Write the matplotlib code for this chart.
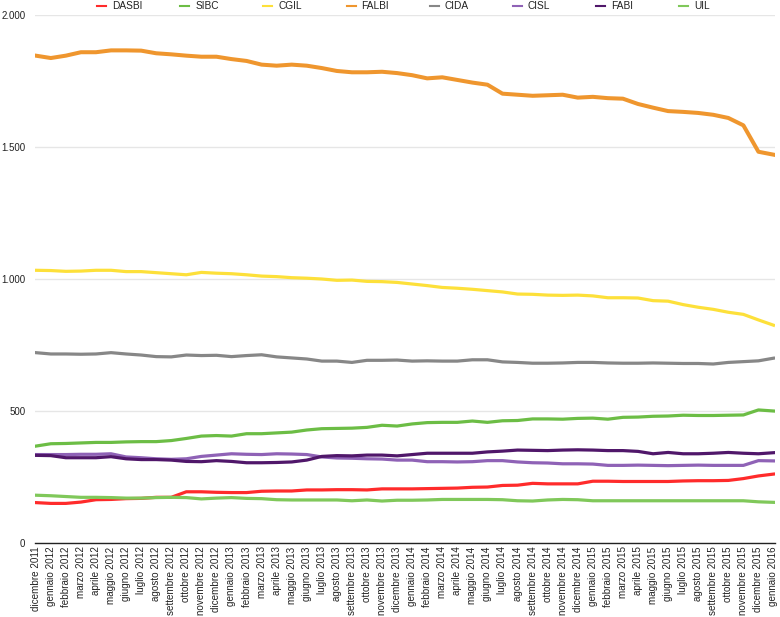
import matplotlib.pyplot as plt
from matplotlib.lines import Line2D
from matplotlib.ticker import FuncFormatter

plt.rcParams['font.family'] = ['Liberation Sans', 'DejaVu Sans']

# months from dicembre 2011 to gennaio 2016
mesi = ["gennaio", "febbraio", "marzo", "aprile", "maggio", "giugno",
        "luglio", "agosto", "settembre", "ottobre", "novembre", "dicembre"]
months = ["dicembre 2011"] + [f"{m} {y}" for y in (2012, 2013, 2014, 2015) for m in mesi] + ["gennaio 2016"]

dasbi = [153, 150, 150, 155, 164, 165, 168, 169, 173, 173, 194, 194, 192, 191, 191, 196, 197, 197, 201, 201,
         202, 202, 201, 205, 205, 205, 206, 207, 208, 211, 212, 218, 219, 226, 224, 224, 224, 234, 234, 233,
         233, 233, 233, 235, 236, 236, 237, 244, 254, 261]
sibc = [367, 376, 377, 379, 381, 381, 383, 384, 384, 388, 396, 405, 407, 405, 414, 414, 417, 420, 428, 433,
        434, 435, 438, 446, 443, 451, 456, 457, 457, 462, 457, 463, 464, 470, 470, 469, 472, 473, 469, 476,
        477, 480, 481, 484, 483, 483, 484, 485, 504, 500]
cgil = [1033, 1032, 1029, 1030, 1033, 1033, 1028, 1028, 1024, 1020, 1016, 1025, 1022, 1020, 1016, 1011, 1009,
        1005, 1003, 1000, 995, 996, 991, 990, 987, 981, 975, 968, 965, 961, 956, 951, 943, 942, 939, 938, 939,
        936, 929, 929, 928, 918, 916, 903, 893, 885, 874, 866, 845, 825]
falbi = [1846, 1837, 1846, 1859, 1859, 1866, 1866, 1865, 1855, 1851, 1846, 1842, 1842, 1833, 1826, 1812, 1808,
         1812, 1808, 1799, 1788, 1783, 1783, 1785, 1780, 1772, 1760, 1764, 1754, 1744, 1736, 1702, 1698, 1694,
         1696, 1698, 1687, 1690, 1685, 1683, 1663, 1649, 1636, 1633, 1629, 1622, 1610, 1582, 1482, 1471]
cida = [721, 716, 716, 715, 716, 721, 716, 712, 706, 705, 712, 710, 711, 706, 710, 713, 705, 701, 697, 689,
        689, 684, 692, 692, 693, 689, 690, 689, 689, 694, 694, 686, 684, 681, 681, 682, 684, 684, 682, 681,
        681, 682, 681, 680, 680, 678, 684, 687, 690, 700]
cisl = [335, 335, 335, 336, 336, 338, 326, 323, 319, 317, 319, 328, 333, 338, 336, 335, 338, 337, 335, 326,
        322, 321, 319, 318, 314, 314, 308, 308, 307, 308, 312, 312, 307, 304, 303, 300, 300, 299, 294, 294,
        295, 294, 293, 294, 295, 294, 294, 294, 312, 311]
fabi = [332, 331, 323, 323, 323, 327, 319, 316, 316, 314, 309, 308, 312, 309, 304, 304, 305, 307, 314, 328,
        331, 330, 333, 333, 330, 335, 340, 340, 340, 340, 345, 348, 352, 351, 350, 352, 353, 352, 350, 350,
        347, 338, 343, 338, 338, 340, 343, 340, 338, 342]
uil = [181, 179, 176, 173, 173, 172, 170, 170, 172, 173, 172, 167, 170, 172, 169, 168, 164, 163, 163, 163,
       163, 160, 163, 159, 162, 162, 163, 165, 165, 165, 165, 164, 160, 159, 163, 165, 164, 160, 160, 160,
       160, 160, 160, 160, 160, 160, 160, 160, 156, 154]

series = [
    ("DASBI", dasbi, "#ff2b2b", 2.3),
    ("SIBC", sibc, "#6cbd45", 2.3),
    ("CGIL", cgil, "#fde03a", 2.3),
    ("FALBI", falbi, "#ef962e", 2.9),
    ("CIDA", cida, "#878787", 2.3),
    ("CISL", cisl, "#8f62b6", 2.3),
    ("FABI", fabi, "#50176a", 2.3),
    ("UIL", uil, "#80c85a", 2.3),
]

fig = plt.figure(figsize=(7.8, 6.17), dpi=100)
ax = fig.add_axes([35 / 780, 1 - 543 / 617, 740 / 780, 528 / 617])

x = list(range(len(months)))
for name, vals, color, lw in series:
    ax.plot(x, vals, color=color, linewidth=lw, solid_joinstyle="round", zorder=3)

ax.set_ylim(0, 2000)
ax.set_xlim(-0.05, 49.1)
ax.set_yticks([0, 500, 1000, 1500, 2000])
ax.yaxis.set_major_formatter(FuncFormatter(lambda v, p: f"{int(v):,}".replace(",", ".")))
ax.grid(axis="y", color="#e6e6e6", linewidth=1)
ax.set_axisbelow(True)

ax.set_xticks(x)
ax.set_xticklabels(months, rotation=90, fontsize=7.1, color="#222222")
ax.tick_params(axis="x", length=0, pad=2.5)
ax.tick_params(axis="y", length=0, pad=7, labelsize=7, labelcolor="#222222")

for s in ["top", "right", "left"]:
    ax.spines[s].set_visible(False)
ax.spines["bottom"].set_color("#222222")
ax.spines["bottom"].set_linewidth(1)

# legend across the top
for k, (name, vals, color, lw) in enumerate(series):
    x0 = 97 + k * 83.2
    fig.add_artist(Line2D([x0 / 780, (x0 + 9) / 780], [1 - 6 / 617, 1 - 6 / 617],
                          color=color, linewidth=1.5, transform=fig.transFigure))
    fig.text((x0 + 15) / 780, 1 - 6 / 617, name, fontsize=7.3, va="center", ha="left", color="#222222")

plt.savefig("out.png", dpi=100)
